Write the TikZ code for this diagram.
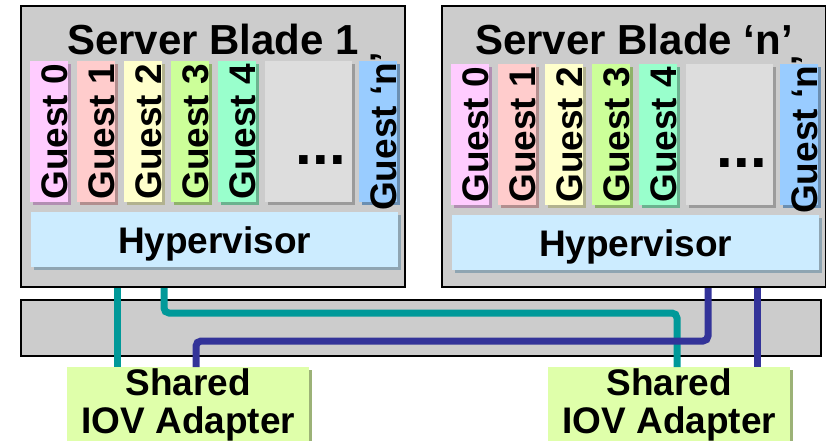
\documentclass[tikz,border=0pt]{standalone}
\usepackage{fontspec}
\setmainfont{Liberation Sans}
\usetikzlibrary{positioning}

\definecolor{bladegray}{HTML}{CCCCCC}
\definecolor{gpink}{HTML}{FFCCFF}
\definecolor{gred}{HTML}{FFCCCC}
\definecolor{gyellow}{HTML}{FFFFCC}
\definecolor{ggreen}{HTML}{CCFF99}
\definecolor{gmint}{HTML}{99FFCC}
\definecolor{gblue}{HTML}{99CCFF}
\definecolor{dotsgray}{HTML}{DDDDDD}
\definecolor{hypblue}{HTML}{CCECFF}
\definecolor{adaptgreen}{HTML}{DFFFAA}
\definecolor{linkteal}{HTML}{009999}
\definecolor{linkblue}{HTML}{333399}

\begin{document}
\begin{tikzpicture}[x=1pt, y=-1pt]

% Define box and text styles
\tikzset{shadowed/.style={fill=#1, preaction={fill=#1!70!black,
                          transform canvas={shift={(3pt,-3pt)}}}}}
\tikzstyle{blade} =[draw, line width=2pt, fill=bladegray, inner sep=0,
                    anchor=north west, minimum width=384pt, minimum height=281pt]
\tikzset{gbox/.style={shadowed=#1, inner sep=0, anchor=north west,
                      minimum width=38pt, minimum height=141pt}}
\tikzstyle{gtext} =[rotate=90, anchor=base, inner sep=0,
                    font=\fontsize{37}{37}\selectfont\bfseries]
\tikzstyle{linkline} =[line width=7pt, rounded corners=5pt]

\useasboundingbox (0,0) rectangle (826,440);
\clip (0,0) rectangle (826,440);

\foreach \b/\dx/\dy/\ttl in {1/0/0/1, n/421/3/‘n’}{
  \node[blade] (b\b) at (20+\dx,5) {};
  \node[anchor=base, inner sep=0, font=\fontsize{42}{42}\selectfont\bfseries]
    (b\b title) at ([yshift=-49pt]b\b.north) {Server Blade \ttl};
  \begin{scope}[shift={(\dx,\dy)}]
    \foreach \i/\c in {0/gpink,1/gred,2/gyellow,3/ggreen,4/gmint}{
      \node[gbox=\c] (b\b g\i) at (30+47*\i,61) {};
      \node[gtext] (b\b t\i) at ([xshift=-1pt]b\b g\i.east) {Guest \i};
    }
    \node[gbox=dotsgray, minimum width=87pt] (b\b dots) at (265,61) {};
    \node[anchor=base, inner sep=0, font=\fontsize{60}{60}\selectfont\bfseries]
      (b\b more) at ([xshift=12pt,yshift=38pt]b\b dots.south) {...};
    \node[gbox=gblue] (b\b gn) at (359,61) {};
    \node[gtext] (b\b tn) at ([xshift=-1pt]b\b gn.east) {Guest ‘n’};
    \node[shadowed=hypblue, anchor=north west, inner sep=0, text depth=0pt,
          minimum width=367pt, minimum height=55pt,
          font=\fontsize{37}{37}\selectfont\bfseries] (b\b hyp) at (31,212) {Hypervisor};
  \end{scope}
}

\node[blade, minimum width=800pt, minimum height=56pt] (backplane) at (20,299) {};

\foreach \a/\x in {1/67, 2/548}{
  \node[shadowed=adaptgreen, anchor=north west, inner sep=0, align=center,
        minimum width=242pt, minimum height=75pt,
        font=\fontsize{37}{38}\selectfont\bfseries] (ad\a) at (\x,367) {Shared\\IOV Adapter};
}

\draw[linkline, linkteal] (117,0 |- b1.south) -- (117,0 |- ad1.north);
\draw[linkline, linkteal] (164,0 |- b1.south) -- (164,313) -- (677,313) -- (677,0 |- ad2.north);
\draw[linkline, linkblue] (708,0 |- bn.south) -- (708,341) -- (196,341) -- (196,0 |- ad1.north);
\draw[linkline, linkblue] (757,0 |- bn.south) -- (757,0 |- ad2.north);

\end{tikzpicture}
\end{document}
